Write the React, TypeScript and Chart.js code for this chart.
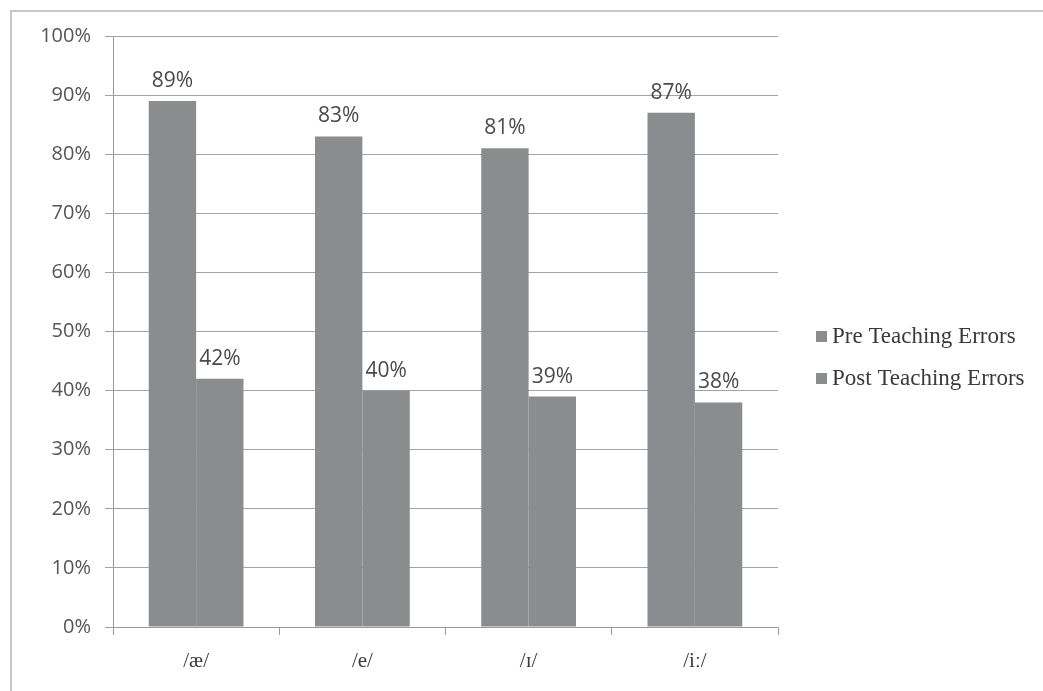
import React, { useEffect, useRef } from "react";
import { Chart, registerables } from "chart.js";

Chart.register(...registerables);

const categories = ["/æ/", "/e/", "/ɪ/", "/iː/"];
const preTeaching = [0.89, 0.83, 0.81, 0.87];
const postTeaching = [0.42, 0.40, 0.39, 0.38];
const seriesNames = ["Pre Teaching Errors", "Post Teaching Errors"];
const yTicks = [0, 0.1, 0.2, 0.3, 0.4, 0.5, 0.6, 0.7, 0.8, 0.9, 1.0];

const BAR_COLOR = "#8b8c8e";

const dataLabelPlugin = {
  id: "dataLabels",
  afterDatasetsDraw(chart: any) {
    const ctx = chart.ctx;
    ctx.save();
    ctx.font = "400 21px 'Open Sans'";
    ctx.fillStyle = "#4a4a4a";
    ctx.textAlign = "center";
    ctx.textBaseline = "alphabetic";
    chart.data.datasets.forEach((ds: any, di: number) => {
      const meta = chart.getDatasetMeta(di);
      meta.data.forEach((bar: any, i: number) => {
        const v = ds.data[i];
        ctx.fillText(Math.round(v * 100) + "%", bar.x, bar.y - 14);
      });
    });
    ctx.restore();
  },
};

const legendPlugin = {
  id: "customLegend",
  afterDraw(chart: any) {
    const ctx = chart.ctx;
    ctx.save();
    ctx.font = "23px 'Liberation Serif'";
    ctx.textBaseline = "middle";
    ctx.textAlign = "left";
    const x0 = chart.chartArea.right + 38;
    const ys = [336, 378];
    chart.data.datasets.forEach((ds: any, i: number) => {
      ctx.fillStyle = ds.backgroundColor;
      ctx.fillRect(x0, ys[i] - 5, 11, 11);
      ctx.fillStyle = "#3a3a3a";
      ctx.fillText(ds.label, x0 + 16, ys[i] + 1);
    });
    ctx.restore();
  },
};

export default function App() {
  const canvasRef = useRef<HTMLCanvasElement | null>(null);

  useEffect(() => {
    if (!canvasRef.current) return;
    const chart = new Chart(canvasRef.current, {
      type: "bar",
      data: {
        labels: categories,
        datasets: [
          {
            label: seriesNames[0],
            data: preTeaching,
            backgroundColor: BAR_COLOR,
            categoryPercentage: 0.57,
            barPercentage: 1.0,
          },
          {
            label: seriesNames[1],
            data: postTeaching,
            backgroundColor: BAR_COLOR,
            categoryPercentage: 0.57,
            barPercentage: 1.0,
          },
        ],
      },
      options: {
        responsive: false,
        animation: false,
        layout: { padding: { top: 36, right: 265, left: 0, bottom: 0 } },
        plugins: {
          legend: { display: false },
          tooltip: { enabled: false },
        },
        scales: {
          x: {
            offset: true,
            grid: {
              display: true,
              drawOnChartArea: false,
              drawTicks: true,
              tickLength: 8,
              offset: true,
              color: "#9a9a9a",
            },
            border: { display: true, color: "#9a9a9a", width: 1 },
            ticks: {
              font: { family: "'Liberation Serif'", size: 21 },
              color: "#3a3a3a",
              padding: 14,
            },
            afterFit: (scale: any) => {
              scale.height = 64;
            },
          },
          y: {
            min: 0,
            max: 1,
            afterBuildTicks: (scale: any) => {
              scale.ticks = yTicks.map((v) => ({ value: v }));
            },
            grid: {
              color: "#a3a3a3",
              tickLength: 8,
              drawTicks: true,
            },
            border: { display: true, color: "#9a9a9a", width: 1 },
            ticks: {
              font: { family: "'Open Sans'", size: 20 },
              color: "#555555",
              padding: 14,
              callback: (v: any) => Math.round(Number(v) * 100) + "%",
            },
            afterFit: (scale: any) => {
              scale.width = 113;
            },
          },
        },
      },
      plugins: [dataLabelPlugin, legendPlugin],
    });
    return () => chart.destroy();
  }, []);

  return (
    <div style={{ position: "fixed", left: 0, top: 0, width: 1043, height: 691, background: "#fff", overflow: "hidden" }}>
      <div
        style={{
          position: "absolute",
          left: 10,
          top: 10,
          width: 1040,
          height: 690,
          borderLeft: "2px solid #c8c8c8",
          borderTop: "2px solid #c8c8c8",
          boxSizing: "border-box",
        }}
      />
      <canvas ref={canvasRef} width={1043} height={691} style={{ position: "absolute", left: 0, top: 0 }} />
    </div>
  );
}
